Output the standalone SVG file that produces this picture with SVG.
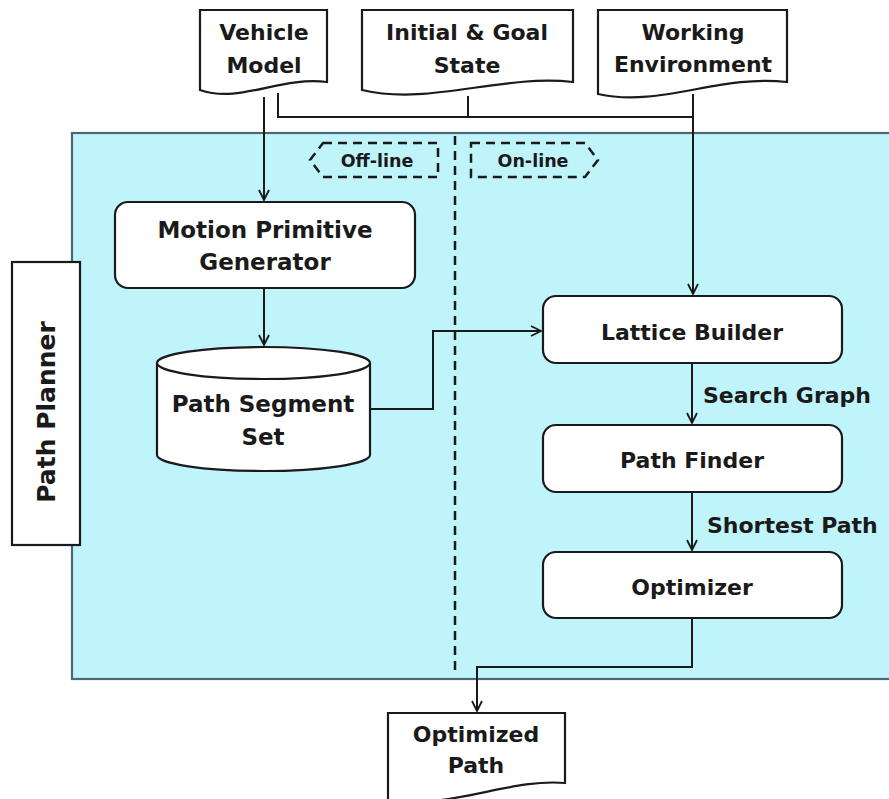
<svg xmlns="http://www.w3.org/2000/svg" width="889" height="799" viewBox="0 0 889 799">
<defs>
<style>
.t{font-family:"DejaVu Sans","Liberation Sans",sans-serif;font-weight:bold;font-size:22px;fill:#1a1a1a;text-anchor:middle}
.s{font-family:"DejaVu Sans","Liberation Sans",sans-serif;font-weight:bold;font-size:17.5px;fill:#1a1a1a;text-anchor:middle}
.lbl{font-family:"DejaVu Sans","Liberation Sans",sans-serif;font-weight:bold;font-size:22px;fill:#1a1a1a}
.box{fill:#fff;stroke:#1a1a1a;stroke-width:2.2}
.ln{fill:none;stroke:#1a1a1a;stroke-width:2}
.dash{fill:none;stroke:#1a1a1a;stroke-width:2.5;stroke-dasharray:9 6}
</style>
<marker id="arr" viewBox="0 0 12 12" refX="11" refY="6" markerWidth="12" markerHeight="12" markerUnits="userSpaceOnUse" orient="auto">
<path d="M1,1 L11,6 L1,11" fill="none" stroke="#1a1a1a" stroke-width="1.8"/>
</marker>
</defs>
<rect width="889" height="799" fill="#fff"/>
<rect id="panel" x="72" y="133" width="830" height="546" fill="#bff4fa" stroke="#4a6878" stroke-width="2.2"/>
<line x1="455" y1="136" x2="455" y2="676" class="dash" stroke-dasharray="12 8"/>

<g id="connectors">
<path class="ln" d="M264,97 V200" marker-end="url(#arr)"/>
<path class="ln" d="M278,93 V117 H693"/>
<path class="ln" d="M468,96 V117"/>
<path class="ln" d="M693,94 V294" marker-end="url(#arr)"/>
<path class="ln" d="M264,288 V345" marker-end="url(#arr)"/>
<path class="ln" d="M370,409 H433 V331 H541" marker-end="url(#arr)"/>
<path class="ln" d="M692,363 V423" marker-end="url(#arr)"/>
<path class="ln" d="M692,492 V550" marker-end="url(#arr)"/>
<path class="ln" d="M692,618 V667 H477 V711" marker-end="url(#arr)"/>
<text class="lbl" x="703" y="403">Search Graph</text>
<text class="lbl" x="707" y="533">Shortest Path</text>
</g>

<g id="vehicle-model">
<path class="box" d="M200,90 V10 H327 V82 C280,76 240,104 200,90 Z"/>
<text class="t" x="264" y="40">Vehicle</text>
<text class="t" x="264" y="73">Model</text>
</g>
<g id="initial-goal-state">
<path class="box" d="M362,90 V10 H573 V82 C500,74 430,106 362,90 Z"/>
<text class="t" x="467" y="40">Initial &amp; Goal</text>
<text class="t" x="467" y="73">State</text>
</g>
<g id="working-environment">
<path class="box" d="M598,94 V10 H787 V82 C720,74 660,108 598,94 Z"/>
<text class="t" x="693" y="40">Working</text>
<text class="t" x="693" y="72">Environment</text>
</g>

<g id="off-line">
<path class="dash" d="M323,143 H438 V177 H323 L310,160 Z"/>
<text class="s" x="377" y="167">Off-line</text>
</g>
<g id="on-line">
<path class="dash" d="M471,143 H585 L598,160 L585,177 H471 Z"/>
<text class="s" x="533" y="167">On-line</text>
</g>

<g id="path-planner">
<rect class="box" x="12" y="262" width="68" height="283"/>
<text class="t" style="font-size:25px" transform="translate(55,412) rotate(-90)">Path Planner</text>
</g>

<g id="motion-primitive-generator">
<rect class="box" x="115" y="202" width="300" height="86" rx="13"/>
<text class="t" style="font-size:23px" x="265" y="238">Motion Primitive</text>
<text class="t" style="font-size:23px" x="265" y="270">Generator</text>
</g>

<g id="path-segment-set">
<path class="box" d="M157,363 V455 A106.5,16 0 0 0 370,455 V363"/>
<ellipse class="box" cx="263.5" cy="363" rx="106.5" ry="16"/>
<text class="t" style="font-size:23px" x="263" y="412">Path Segment</text>
<text class="t" style="font-size:23px" x="263" y="445">Set</text>
</g>

<g id="lattice-builder">
<rect class="box" x="543" y="296" width="299" height="67" rx="13"/>
<text class="t" x="692" y="340">Lattice Builder</text>
</g>
<g id="path-finder">
<rect class="box" x="543" y="425" width="299" height="67" rx="13"/>
<text class="t" x="692" y="468">Path Finder</text>
</g>
<g id="optimizer">
<rect class="box" x="543" y="552" width="299" height="66" rx="13"/>
<text class="t" x="692" y="595">Optimizer</text>
</g>

<g id="optimized-path">
<path class="box" d="M388,800 V713 H565 V783 C510,778 450,810 388,800 Z"/>
<text class="t" x="476" y="742">Optimized</text>
<text class="t" x="476" y="773">Path</text>
</g>
</svg>
